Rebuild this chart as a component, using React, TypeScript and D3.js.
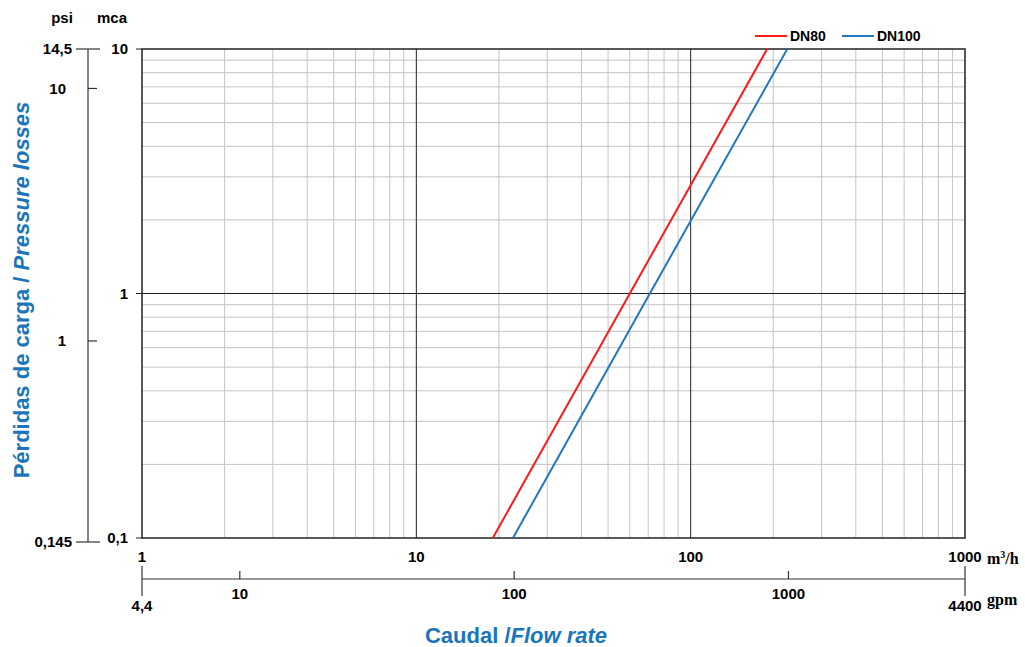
import { useMemo } from 'react';
import { scaleLog, line as d3line } from 'd3';

// Pressure-loss curves (mca) vs flow (m³/h)
const PRESSURE = [0.1, 1, 10];
const FLOW_DN80 = [19, 60, 190];
const FLOW_DN100 = [22.5, 71, 225];

const SERIES = [
  { name: 'DN80', flow: FLOW_DN80, color: '#ff1a1a' },
  { name: 'DN100', flow: FLOW_DN100, color: '#1f78c1' },
];

const MCA_TICKS = [10, 1, 0.1];
const MCA_LABELS = ['10', '1', '0,1'];
const PSI_TICKS = [14.5, 10, 1, 0.145];
const PSI_LABELS = ['14,5', '10', '1', '0,145'];
const M3H_TICKS = [1, 10, 100, 1000];
const GPM_TICKS = [4.4, 10, 100, 1000, 4400];
const GPM_LABELS = ['4,4', '10', '100', '1000', '4400'];

const W = 1025;
const H = 647;
const L = 142;
const R = 965;
const T = 49;
const B = 538;
const PSI_X = 88;
const GPM_Y = 579;
const BLUE = '#1b75bc';
const FONT = '"Liberation Sans", Arial, sans-serif';
const SERIF = '"Liberation Serif", "Times New Roman", serif';

export default function App() {
  const x = useMemo(() => scaleLog().domain([1, 1000]).range([L, R]), []);
  const y = useMemo(() => scaleLog().domain([0.1, 10]).range([B, T]), []);
  const psi = useMemo(() => scaleLog().domain([0.145, 14.5]).range([B, T]), []);
  const gpm = useMemo(() => scaleLog().domain([4.4, 4400]).range([L, R]), []);

  const isMajor = (v: number) => Math.abs(Math.log10(v) - Math.round(Math.log10(v))) < 1e-6;
  const xGrid = x.ticks();
  const yGrid = y.ticks();

  const gen = d3line<[number, number]>()
    .x((d) => x(d[0]))
    .y((d) => y(d[1]));

  return (
    <svg
      width={W}
      height={H}
      style={{ position: 'absolute', left: 0, top: 0, background: '#fff' }}
      fontFamily={FONT}
    >
      {/* minor grid */}
      {xGrid.filter((v) => !isMajor(v)).map((v) => (
        <line key={'xg' + v} x1={x(v)} x2={x(v)} y1={T} y2={B} stroke="#c4c4c4" strokeWidth={1} />
      ))}
      {yGrid.filter((v) => !isMajor(v)).map((v) => (
        <line key={'yg' + v} x1={L} x2={R} y1={y(v)} y2={y(v)} stroke="#c4c4c4" strokeWidth={1} />
      ))}
      {/* major grid */}
      {xGrid.filter((v) => isMajor(v) && v > 1 && v < 1000).map((v) => (
        <line key={'xm' + v} x1={x(v)} x2={x(v)} y1={T} y2={B} stroke="#222" strokeWidth={1} />
      ))}
      {yGrid.filter((v) => isMajor(v) && v > 0.1 && v < 10).map((v) => (
        <line key={'ym' + v} x1={L} x2={R} y1={y(v)} y2={y(v)} stroke="#222" strokeWidth={1} />
      ))}
      <rect x={L} y={T} width={R - L} height={B - T} fill="none" stroke="#222" strokeWidth={1.5} />

      {/* curves */}
      {SERIES.map((s) => (
        <path
          key={s.name}
          d={gen(s.flow.map((q, i) => [q, PRESSURE[i]] as [number, number])) ?? ''}
          fill="none"
          stroke={s.color}
          strokeWidth={2}
        />
      ))}

      {/* mca axis */}
      {MCA_TICKS.map((v, i) => (
        <g key={'mca' + v}>
          <line x1={L - 6} x2={L} y1={y(v)} y2={y(v)} stroke="#222" />
          <text x={128} y={y(v)} dy="0.35em" textAnchor="end" fontSize={15} fontWeight="bold">
            {MCA_LABELS[i]}
          </text>
        </g>
      ))}
      <text x={112} y={23} textAnchor="middle" fontSize={15} fontWeight="bold">mca</text>

      {/* psi axis */}
      <line x1={PSI_X} x2={PSI_X} y1={psi(14.5)} y2={psi(0.145) + 4} stroke="#333" strokeWidth={1.2} />
      {PSI_TICKS.map((v, i) => {
        const end = i === 0 || i === PSI_TICKS.length - 1;
        const yy = psi(v) + (i === PSI_TICKS.length - 1 ? 4 : i === 2 ? 8 : 0);
        return (
          <g key={'psi' + v}>
            <line x1={end ? 76 : PSI_X} x2={end ? 100 : PSI_X + 9} y1={yy} y2={yy} stroke="#333" strokeWidth={1.2} />
            <text x={end ? 72 : 66} y={yy} dy="0.35em" textAnchor="end" fontSize={15} fontWeight="bold">
              {PSI_LABELS[i]}
            </text>
          </g>
        );
      })}
      <text x={62} y={23} textAnchor="middle" fontSize={15} fontWeight="bold">psi</text>

      {/* m³/h labels */}
      {M3H_TICKS.map((v) => (
        <text key={'m3' + v} x={x(v)} y={562} textAnchor="middle" fontSize={15} fontWeight="bold">
          {v}
        </text>
      ))}
      <text x={987} y={564} fontSize={16} fontWeight="bold" fontFamily={SERIF}>
        m<tspan fontSize={10} dy={-6}>3</tspan>
        <tspan dy={6}>/h</tspan>
      </text>

      {/* gpm axis */}
      <line x1={L} x2={R} y1={GPM_Y} y2={GPM_Y} stroke="#333" strokeWidth={1.2} />
      {GPM_TICKS.map((v, i) => {
        const end = i === 0 || i === GPM_TICKS.length - 1;
        return (
          <g key={'gpm' + v}>
            <line
              x1={gpm(v)}
              x2={gpm(v)}
              y1={end ? 566 : GPM_Y - 8}
              y2={end ? 596 : GPM_Y}
              stroke="#333"
              strokeWidth={1.2}
            />
            <text x={gpm(v)} y={end ? 611 : 599} textAnchor="middle" fontSize={15} fontWeight="bold">
              {GPM_LABELS[i]}
            </text>
          </g>
        );
      })}
      <text x={987} y={605} fontSize={16} fontWeight="bold" fontFamily={SERIF}>gpm</text>

      {/* legend */}
      {SERIES.map((s, i) => {
        const x0 = i === 0 ? 755 : 842;
        return (
          <g key={'lg' + s.name}>
            <line x1={x0} x2={x0 + 32} y1={36} y2={36} stroke={s.color} strokeWidth={2} />
            <text x={x0 + 35} y={36} dy="0.35em" fontSize={14} fontWeight="bold">
              {s.name}
            </text>
          </g>
        );
      })}

      {/* titles */}
      <text
        transform="translate(29,290) rotate(-90)"
        textAnchor="middle"
        fontSize={22}
        fontWeight="bold"
        fill={BLUE}
      >
        Pérdidas de carga / <tspan fontStyle="italic">Pressure losses</tspan>
      </text>
      <text x={516} y={643} textAnchor="middle" fontSize={22} fontWeight="bold" fill={BLUE}>
        Caudal /<tspan fontStyle="italic">Flow rate</tspan>
      </text>
    </svg>
  );
}
